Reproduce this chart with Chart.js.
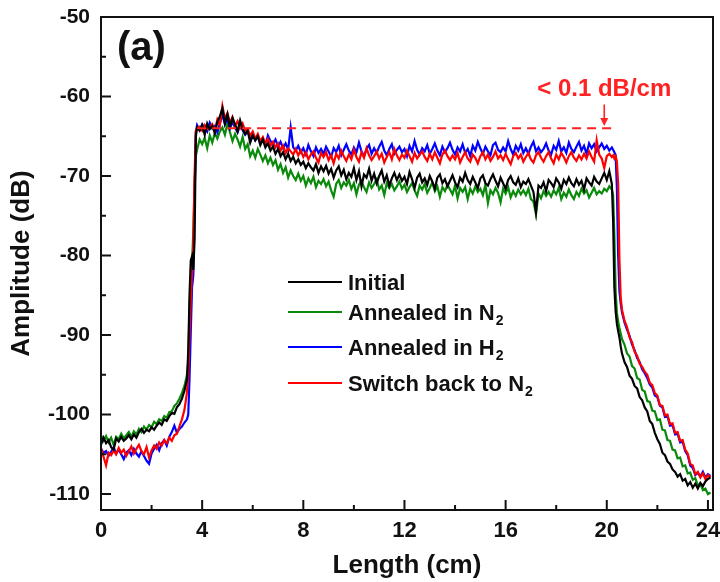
<!DOCTYPE html>
<html><head><meta charset="utf-8">
<script src="https://cdn.jsdelivr.net/npm/chart.js@4.4.1/dist/chart.umd.min.js"></script>
<style>html,body{margin:0;padding:0;background:#fff;}#wrap{width:720px;height:582px;}</style>
</head><body><div id="wrap"><canvas id="c" width="720" height="582"></canvas></div>
<script>
// ---- data ----
const lengthCm = [
0,0.1,0.2,0.3,0.4,0.5,0.6,0.7,0.8,0.9,1,1.1,1.2,1.3,1.4,1.5,1.6,1.7,1.8,1.9,2,2.1,2.2,2.3,2.4,2.5,2.6,2.7,2.8,2.9,3,3.1,3.2,3.3,3.4,
3.45,3.5,3.55,3.6,3.65,3.7,3.75,
3.8,3.9,4,4.1,4.2,4.3,4.4,4.5,4.6,4.7,
4.8,4.9,5,5.1,5.2,5.3,5.4,5.5,5.6,5.7,
5.8,5.9,6,6.1,6.2,6.3,6.4,6.5,6.6,6.7,
6.8,6.9,7,7.1,7.2,7.3,7.4,7.5,7.6,7.7,
7.8,7.9,8,8.1,8.2,8.3,8.4,8.5,8.6,8.7,
8.8,8.9,9,9.1,9.2,9.3,9.4,9.5,9.6,9.7,
9.8,9.9,10,10.1,10.2,10.3,10.4,10.5,10.6,10.7,
10.8,10.9,11,11.1,11.2,11.3,11.4,11.5,11.6,11.7,
11.8,11.9,12,12.1,12.2,12.3,12.4,12.5,12.6,12.7,
12.8,12.9,13,13.1,13.2,13.3,13.4,13.5,13.6,13.7,
13.8,13.9,14,14.1,14.2,14.3,14.4,14.5,14.6,14.7,
14.8,14.9,15,15.1,15.2,15.3,15.4,15.5,15.6,15.7,
15.8,15.9,16,16.1,16.2,16.3,16.4,16.5,16.6,16.7,
16.8,16.9,17,17.1,17.2,17.3,17.4,17.5,17.6,17.7,
17.8,17.9,18,18.1,18.2,18.3,18.4,18.5,18.6,18.7,
18.8,18.9,19,19.1,19.2,19.3,19.4,19.5,19.6,19.7,
19.8,19.9,20,20.1,20.2,
20.25,20.3,20.35,20.4,20.45,20.5,20.55,
20.6,20.7,20.8,20.9,21,21.1,21.2,21.3,21.4,21.5,21.6,21.7,21.8,21.9,22,22.1,22.2,22.3,22.4,22.5,22.6,22.7,22.8,22.9,23,23.1,23.2,23.3,23.4,23.5,23.6,23.7,23.8,23.9,24,24.1
];

const initial = [
-103.8,-102.9,-103.6,-103.2,-104.1,-104.4,-103.0,-103.4,-102.8,-103.3,-103.0,-102.6,-103.1,-102.5,-102.9,-102.2,-101.8,-102.3,-101.9,-102.1,-101.6,-101.9,-101.4,-101.0,-101.3,-100.6,-100.8,-100.2,-99.8,-99.9,-99.1,-98.7,-98.0,-97.0,-95.6,
-92.0,-85.0,-80.6,-80.1,-81.8,-78.0,-65.0,
-63.9,-64.3,-63.6,-64.8,-63.4,-64.1,-63.7,-64.6,-63.2,-62.5,
-61.5,-63.4,-62.2,-63.8,-62.7,-63.5,-64.4,-63.0,-64.1,-64.7,
-64.3,-65.8,-64.9,-65.5,-65.0,-66.1,-65.4,-66.4,-65.9,-66.8,
-66.3,-67.2,-66.6,-67.5,-67.0,-67.9,-67.2,-68.1,-67.6,-68.4,
-67.9,-68.6,-68.2,-69.0,-68.4,-68.9,-69.3,-68.5,-69.6,-68.8,
-69.4,-68.7,-69.7,-69.1,-70.2,-69.3,-68.8,-69.9,-69.2,-70.4,
-69.6,-70.1,-69.0,-70.5,-69.4,-71.3,-69.8,-70.2,-69.1,-70.6,
-69.7,-70.9,-70.0,-69.3,-70.7,-69.9,-71.2,-70.3,-69.6,-70.5,
-69.8,-70.6,-70.1,-71.0,-69.5,-70.4,-71.5,-70.2,-69.7,-70.8,
-70.3,-71.1,-70.0,-70.7,-71.6,-70.2,-69.8,-70.9,-70.4,-71.3,
-70.6,-69.9,-70.8,-71.4,-70.2,-70.7,-69.6,-70.5,-71.0,-70.1,
-70.8,-71.5,-70.3,-69.9,-70.9,-71.2,-70.4,-69.8,-70.6,-71.3,
-70.2,-70.9,-71.6,-70.5,-70.0,-70.8,-71.1,-70.3,-71.4,-70.7,
-71.0,-70.4,-71.2,-72.0,-74.5,-71.2,-71.5,-70.8,-71.9,-70.5,
-70.9,-71.4,-70.3,-70.8,-71.6,-70.5,-71.0,-70.2,-70.9,-71.3,
-70.4,-71.1,-70.6,-71.7,-70.3,-70.8,-71.2,-70.1,-70.7,-71.0,
-70.3,-69.6,-70.5,-69.4,-71.0,
-75.5,-84.0,-87.0,-88.6,-89.5,-90.3,-91.4,
-92.3,-93.4,-94.0,-95.1,-95.5,-96.4,-96.7,-97.8,-98.2,-99.1,-99.6,-100.8,-101.2,-102.3,-103.1,-103.7,-104.8,-105.1,-105.9,-106.2,-106.9,-107.2,-107.8,-107.5,-108.3,-108.1,-108.9,-108.5,-109.2,-108.7,-109.3,-108.6,-109.0,-108.4,-108.1,-107.9
];

const annealedN2 = [
-102.6,-103.3,-102.7,-103.5,-102.9,-103.8,-102.8,-103.1,-102.4,-103.0,-102.6,-102.2,-102.8,-102.1,-102.5,-101.8,-102.2,-101.5,-101.9,-101.3,-101.6,-100.9,-101.2,-100.6,-100.8,-100.2,-100.4,-99.7,-99.6,-98.9,-98.6,-98.0,-97.3,-96.4,-95.0,
-93.5,-87.0,-83.0,-81.0,-77.0,-71.0,-67.5,
-66.7,-65.4,-66.0,-65.2,-66.5,-64.9,-65.8,-64.6,-65.3,-64.4,
-63.9,-64.8,-63.4,-64.5,-65.6,-64.7,-65.4,-66.3,-65.1,-66.6,
-66.0,-67.5,-66.8,-67.7,-66.6,-67.3,-68.1,-67.4,-68.4,-67.7,
-68.6,-68.0,-69.2,-68.5,-69.6,-68.9,-70.2,-69.3,-70.0,-70.5,
-69.7,-70.6,-70.0,-71.2,-70.3,-70.9,-70.1,-71.4,-70.6,-71.0,
-70.4,-71.3,-70.7,-71.8,-72.6,-71.0,-70.5,-71.5,-70.8,-71.2,
-70.5,-71.6,-70.9,-72.3,-71.1,-70.6,-71.4,-72.0,-70.8,-71.5,
-71.0,-70.4,-71.7,-71.2,-72.4,-70.9,-71.5,-71.0,-71.8,-71.3,
-70.7,-71.6,-71.1,-72.0,-71.4,-70.9,-71.8,-72.5,-71.2,-71.7,
-71.0,-72.1,-71.5,-70.8,-71.9,-71.3,-72.6,-71.4,-71.9,-71.1,
-71.7,-72.3,-71.2,-72.8,-71.5,-72.0,-71.4,-72.9,-71.6,-72.2,
-71.3,-72.0,-71.6,-72.4,-71.1,-73.4,-71.8,-72.3,-71.5,-72.1,
-73.3,-71.6,-72.2,-71.4,-72.7,-71.9,-72.5,-71.7,-72.3,-71.8,
-72.4,-71.6,-72.9,-73.2,-74.8,-72.2,-72.8,-71.9,-72.5,-72.0,
-72.6,-71.8,-72.3,-71.5,-72.9,-72.1,-72.6,-71.7,-72.4,-72.9,
-72.0,-72.5,-71.6,-72.2,-71.8,-72.7,-72.1,-71.5,-72.3,-71.9,
-72.2,-71.6,-71.9,-71.3,-71.7,
-72.4,-77.5,-84.5,-87.2,-88.3,-89.1,-89.8,
-90.5,-91.2,-92.3,-92.7,-93.9,-94.2,-95.4,-95.6,-96.9,-97.1,-98.3,-98.4,-99.5,-99.6,-100.7,-100.6,-101.9,-102.0,-103.2,-103.3,-104.4,-104.5,-105.5,-105.4,-106.5,-106.4,-107.4,-107.3,-108.2,-108.0,-108.9,-108.7,-109.5,-109.3,-110.0,-109.8
];

const annealedH2 = [
-104.3,-104.8,-104.6,-105.2,-104.7,-104.1,-104.9,-104.4,-105.0,-105.6,-104.8,-104.5,-105.1,-104.3,-104.9,-105.3,-104.6,-105.2,-105.8,-106.2,-104.9,-104.3,-103.8,-104.5,-103.6,-103.2,-103.9,-102.8,-102.2,-101.4,-102.3,-101.8,-101.5,-101.0,-100.6,
-100.0,-95.5,-89.5,-84.0,-82.5,-73.0,-64.5,
-63.6,-64.2,-63.5,-63.9,-64.4,-63.3,-64.0,-63.7,-64.5,-63.4,
-62.3,-63.5,-62.8,-64.0,-63.2,-63.9,-64.5,-63.6,-64.2,-64.8,
-64.4,-65.2,-64.7,-65.5,-65.0,-65.8,-65.3,-66.1,-64.9,-65.6,
-66.0,-65.4,-66.3,-65.7,-66.5,-65.9,-66.7,-63.9,-66.4,-66.8,
-66.2,-67.0,-66.5,-67.3,-66.1,-66.9,-67.5,-66.4,-67.1,-66.6,
-67.2,-66.3,-66.9,-67.6,-66.5,-67.0,-66.2,-67.4,-66.7,-66.0,
-66.8,-67.3,-66.4,-67.0,-65.8,-66.9,-67.5,-66.6,-66.1,-67.2,
-66.5,-67.1,-66.3,-65.7,-66.8,-67.4,-66.6,-66.0,-67.2,-66.7,
-66.3,-67.0,-66.6,-67.5,-66.2,-66.9,-65.6,-66.7,-67.3,-66.5,
-66.9,-66.1,-67.2,-66.6,-65.9,-66.8,-67.4,-66.3,-67.0,-66.5,
-65.8,-66.7,-67.3,-66.4,-66.9,-66.0,-67.1,-66.6,-67.5,-66.2,
-66.8,-65.7,-66.5,-67.2,-66.3,-66.9,-67.4,-66.1,-65.8,-66.7,
-67.0,-66.4,-66.9,-65.6,-66.6,-67.3,-66.2,-66.8,-66.0,-67.1,
-66.5,-67.2,-66.3,-65.7,-66.9,-66.4,-67.0,-66.6,-65.9,-66.8,
-67.3,-66.2,-66.7,-65.6,-66.9,-66.4,-67.1,-65.8,-66.6,-67.0,
-66.3,-65.7,-66.8,-66.2,-67.2,-65.9,-66.5,-66.0,-66.9,-66.4,
-65.9,-66.6,-66.2,-66.8,-66.4,
-66.7,-67.0,-67.4,-71.5,-80.0,-84.5,-86.0,
-87.1,-88.4,-89.3,-90.1,-91.2,-91.9,-92.9,-93.4,-94.3,-94.8,-95.4,-96.2,-96.6,-97.6,-97.8,-98.9,-99.1,-100.3,-100.2,-101.4,-101.3,-102.5,-102.4,-103.5,-103.4,-104.6,-105.1,-106.4,-106.7,-107.6,-107.3,-107.8,-107.2,-107.9,-107.5,-107.7
];

const switchBackN2 = [
-104.2,-105.3,-106.4,-104.8,-105.1,-104.5,-105.0,-104.2,-104.8,-104.4,-105.2,-104.6,-104.0,-104.9,-104.3,-103.8,-104.6,-105.0,-104.1,-105.4,-104.5,-103.9,-104.3,-103.5,-103.9,-103.2,-103.6,-102.9,-103.3,-102.6,-102.4,-101.5,-100.6,-99.4,-97.2,
-95.0,-90.0,-85.5,-82.0,-78.5,-70.0,-64.3,
-64.0,-63.8,-64.3,-63.6,-64.1,-63.9,-63.5,-64.4,-62.9,-63.6,
-61.2,-62.8,-62.1,-63.3,-62.6,-63.7,-63.1,-64.0,-63.4,-64.3,
-64.1,-64.9,-64.4,-65.3,-64.7,-65.6,-65.1,-65.9,-65.3,-66.2,
-65.7,-66.4,-65.9,-66.8,-66.2,-67.1,-66.5,-66.9,-67.3,-66.6,
-67.4,-66.8,-67.6,-67.0,-67.9,-67.3,-66.9,-67.7,-68.3,-67.1,
-67.6,-67.0,-68.0,-67.4,-68.4,-67.2,-67.8,-66.8,-67.5,-68.1,
-67.3,-67.9,-66.7,-67.6,-68.2,-67.0,-67.7,-66.5,-67.4,-68.0,
-67.5,-66.9,-67.8,-67.2,-68.3,-67.6,-67.0,-67.9,-66.6,-67.4,
-68.0,-67.3,-67.7,-66.8,-67.5,-68.2,-67.1,-67.8,-67.3,-66.9,
-67.6,-68.1,-67.2,-67.9,-67.0,-67.7,-68.4,-67.3,-66.8,-67.5,
-68.0,-67.4,-67.9,-67.1,-68.3,-67.6,-67.0,-67.8,-68.2,-67.3,
-67.7,-68.4,-67.5,-67.0,-67.9,-67.3,-68.1,-67.6,-66.9,-67.8,
-67.4,-68.0,-67.2,-67.9,-68.5,-67.5,-67.1,-67.8,-67.3,-68.2,
-67.6,-67.1,-67.9,-68.3,-67.4,-67.0,-67.7,-68.2,-67.5,-67.0,
-67.8,-68.4,-67.3,-67.9,-67.1,-67.6,-68.3,-67.5,-67.0,-67.7,
-68.1,-67.4,-67.9,-67.2,-67.8,-66.9,-67.6,-68.2,-65.5,-67.3,
-67.8,-69.0,-67.5,-67.2,-67.6,
-67.4,-67.8,-67.5,-68.2,-71.0,-80.5,-85.3,
-86.8,-88.2,-89.0,-90.3,-90.9,-92.1,-92.6,-93.6,-94.0,-94.6,-95.0,-96.0,-96.3,-97.3,-97.6,-98.8,-98.9,-100.1,-100.0,-101.2,-101.1,-102.3,-102.2,-103.3,-103.2,-104.4,-104.9,-106.2,-106.4,-107.5,-107.2,-107.9,-107.4,-108.1,-107.6,-107.9
];

const seriesNames = ['Initial', 'Annealed in N\u2082', 'Annealed in H\u2082', 'Switch back to N\u2082'];
const seriesColors = ['#000000', '#0a8a0a', '#0000ff', '#ff0000'];

const xTicks = [0, 4, 8, 12, 16, 20, 24];
const xMinorTicks = [2, 6, 10, 14, 18, 22];
const yTicks = [-50, -60, -70, -80, -90, -100, -110];
const yMinorTicks = [-55, -65, -75, -85, -95, -105];

const refLineX = [3.8, 20.4];
const refLineY = [-64.0, -64.0];
const arrowX = 19.9, arrowFrom = -61.0, arrowTo = -63.7;
const annotationText = '< 0.1 dB/cm';
const annotationX = 19.9, annotationY = -59.9;
const panelLabel = '(a)';

// ---- chart ----
const FONT = "'Liberation Sans', Arial, sans-serif";
const pts = ys => lengthCm.map((x, i) => ({x: x, y: ys[i]}));
const seriesData = [initial, annealedN2, annealedH2, switchBackN2];
const drawOrder = [0, 3, 2, 1];

const datasets = seriesData.map((ys, i) => ({
  label: seriesNames[i], data: pts(ys), borderColor: seriesColors[i],
  borderWidth: 2.2, pointRadius: 0, tension: 0, fill: false, order: drawOrder[i]
}));
datasets.push({
  label: 'ref', data: refLineX.map((x, i) => ({x: x, y: refLineY[i]})),
  borderColor: '#ff2222', borderWidth: 2, borderDash: [9, 6], pointRadius: 0, order: -1
});

const overlay = {
  id: 'overlay',
  afterDatasetsDraw(chart) {
    const ctx = chart.ctx, a = chart.chartArea;
    const xs = chart.scales.x, ys = chart.scales.y;
    ctx.save();
    // frame
    ctx.strokeStyle = '#111'; ctx.lineWidth = 2;
    ctx.strokeRect(a.left, a.top, a.right - a.left, a.bottom - a.top);
    // inward ticks
    ctx.beginPath();
    xTicks.forEach(v => { const p = xs.getPixelForValue(v); ctx.moveTo(p, a.bottom); ctx.lineTo(p, a.bottom - 10); });
    xMinorTicks.forEach(v => { const p = xs.getPixelForValue(v); ctx.moveTo(p, a.bottom); ctx.lineTo(p, a.bottom - 5); });
    yTicks.forEach(v => { const p = ys.getPixelForValue(v); ctx.moveTo(a.left, p); ctx.lineTo(a.left + 10, p); });
    yMinorTicks.forEach(v => { const p = ys.getPixelForValue(v); ctx.moveTo(a.left, p); ctx.lineTo(a.left + 5, p); });
    ctx.stroke();

    // arrow
    const ax = xs.getPixelForValue(arrowX), ay1 = ys.getPixelForValue(arrowFrom), ay2 = ys.getPixelForValue(arrowTo);
    ctx.strokeStyle = '#ff2222'; ctx.fillStyle = '#ff2222'; ctx.lineWidth = 1.6;
    ctx.beginPath(); ctx.moveTo(ax, ay1); ctx.lineTo(ax, ay2 - 6); ctx.stroke();
    ctx.beginPath(); ctx.moveTo(ax - 4, ay2 - 8); ctx.lineTo(ax + 4, ay2 - 8); ctx.lineTo(ax, ay2); ctx.closePath(); ctx.fill();

    // annotation
    ctx.font = 'bold 24px ' + FONT; ctx.textAlign = 'center'; ctx.textBaseline = 'alphabetic';
    ctx.fillText(annotationText, xs.getPixelForValue(annotationX), ys.getPixelForValue(annotationY));

    // panel label
    ctx.fillStyle = '#111'; ctx.textAlign = 'left';
    ctx.font = 'bold 40px ' + FONT;
    ctx.fillText(panelLabel, 117, 60);

    // legend
    const rows = [282, 312, 347, 383];
    seriesNames.forEach((name, i) => {
      const y = rows[i];
      ctx.strokeStyle = seriesColors[i]; ctx.lineWidth = 2;
      ctx.beginPath(); ctx.moveTo(288, y); ctx.lineTo(342, y); ctx.stroke();
      let main = name, sub = '';
      if (name.endsWith('\u2082')) { main = name.slice(0, -1); sub = '2'; }
      ctx.fillStyle = '#111'; ctx.font = 'bold 22px ' + FONT; ctx.textAlign = 'left';
      ctx.fillText(main, 348, y + 8);
      if (sub) {
        const w = ctx.measureText(main).width;
        ctx.font = 'bold 14px ' + FONT;
        ctx.fillText(sub, 348 + w + 1, y + 13);
      }
    });
    ctx.restore();
  }
};

new Chart(document.getElementById('c'), {
  type: 'line',
  data: { datasets: datasets },
  options: {
    responsive: false, animation: false, devicePixelRatio: 1,
    layout: { padding: { top: 17, right: 7, bottom: 0, left: 0 } },
    plugins: { legend: { display: false }, tooltip: { enabled: false } },
    scales: {
      x: {
        type: 'linear', min: 0, max: 24.2,
        afterBuildTicks: s => { s.ticks = xTicks.map(v => ({value: v})); },
        afterFit: s => { s.height = 72; s.paddingLeft = 0; s.paddingRight = 0; },
        grid: { display: false, drawTicks: false }, border: { display: false },
        ticks: { padding: 8, color: '#111', maxRotation: 0, autoSkip: false,
                 font: { family: FONT, size: 22, weight: 'bold' } },
        title: { display: true, text: 'Length (cm)', color: '#111',
                 font: { family: FONT, size: 26, weight: 'bold' }, padding: { top: 0, bottom: 1 } }
      },
      y: {
        type: 'linear', min: -112, max: -50,
        afterBuildTicks: s => { s.ticks = yTicks.map(v => ({value: v})); },
        afterFit: s => { s.width = 101; s.paddingTop = 0; s.paddingBottom = 0; },
        grid: { display: false, drawTicks: false }, border: { display: false },
        ticks: { padding: 11, color: '#111', autoSkip: false,
                 font: { family: FONT, size: 21, weight: 'bold' } },
        title: { display: true, text: 'Amplitude (dB)', color: '#111',
                 font: { family: FONT, size: 26, weight: 'bold' }, padding: { top: 6, bottom: 0 } }
      }
    }
  },
  plugins: [overlay]
});
</script>
</body></html>
